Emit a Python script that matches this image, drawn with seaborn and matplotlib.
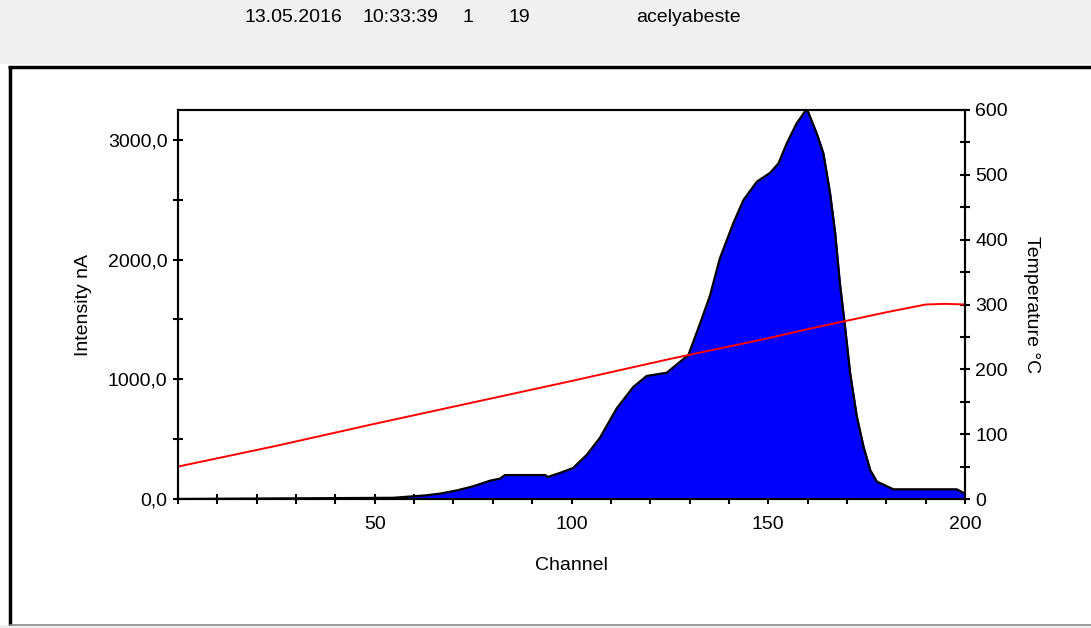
import matplotlib
matplotlib.use("Agg")
import matplotlib.pyplot as plt
import matplotlib.ticker as mticker
from matplotlib.patches import Rectangle
from matplotlib.lines import Line2D
import seaborn as sns
import pandas as pd

# ------------------------------------------------------------
# Data
# ------------------------------------------------------------
channel = [0, 54.6, 62.8, 66.6, 70.9, 75.0, 79.3, 81.8, 83.1, 93.3, 94.0, 97.0,
           100.4, 103.9, 107.2, 111.5, 115.7, 119.1, 124.2, 127.6, 129.7, 132.7,
           135.2, 137.7, 141.1, 143.7, 147.1, 150.5, 152.6, 154.7, 157.2, 159.8,
           162.3, 164.0, 165.7, 167.0, 168.2, 169.5, 170.8, 172.5, 174.2, 175.9,
           177.6, 181.8, 197.9, 199.5, 200]
intensity = [0, 10, 30, 45, 72, 106, 153, 170, 200, 200, 184, 217,
             259, 370, 510, 758, 936, 1028, 1055, 1147, 1203, 1468,
             1700, 2010, 2303, 2498, 2651, 2726, 2804, 2971, 3138, 3260,
             3055, 2888, 2554, 2220, 1800, 1440, 1050, 688, 437, 242,
             145, 81, 81, 53, 50]

temp_channel = [0, 25, 50, 75, 100, 125, 150, 160, 170, 180, 190, 195, 200]
temperature = [50, 82, 116, 149, 182, 216, 248, 262, 275, 288, 300, 301, 300]

header_items = ["13.05.2016", "10:33:39", "1", "19", "acelyabeste"]
header_x = [245, 362, 462, 508, 636]

left_ticks = [0, 1000, 2000, 3000]
right_ticks = [0, 100, 200, 300, 400, 500, 600]
x_ticks = [50, 100, 150, 200]

# ------------------------------------------------------------
# Figure
# ------------------------------------------------------------
sns.set_style("white")
plt.rcParams["font.family"] = ["Liberation Sans", "DejaVu Sans"]
for key in ("text.color", "axes.labelcolor", "xtick.color", "ytick.color"):
    plt.rcParams[key] = "black"
FS = 14

W, H = 1091, 628
fig = plt.figure(figsize=(W / 100, H / 100), dpi=100)
fig.patch.set_facecolor("white")

# window chrome: gray header, black frame
fig.add_artist(Rectangle((0, 1 - 64 / H), 1, 64 / H, transform=fig.transFigure,
                         facecolor="#f0f0f0", edgecolor="none", zorder=0))
fig.add_artist(Line2D([8 / W, 1], [1 - 66.5 / H] * 2, transform=fig.transFigure,
                      color="black", lw=2.5, solid_capstyle="butt"))
fig.add_artist(Line2D([10 / W] * 2, [1 - 66 / H, 1 - 625 / H], transform=fig.transFigure,
                      color="black", lw=2.5, solid_capstyle="butt"))
fig.add_artist(Rectangle((0, 0), 1, 3 / H, transform=fig.transFigure,
                         facecolor="#f0f0f0", edgecolor="none"))
fig.add_artist(Line2D([10 / W, 1], [1 - 625 / H] * 2, transform=fig.transFigure,
                      color="#8a8a8a", lw=1.2))

for txt, px in zip(header_items, header_x):
    fig.text(px / W, 1 - 18 / H, txt, fontsize=FS, ha="left", va="center")

left, right, top, bottom = 178, 965, 110, 499
ax = fig.add_axes([left / W, 1 - bottom / H, (right - left) / W, (bottom - top) / H])
ax2 = ax.twinx()

df = pd.DataFrame({"channel": channel, "intensity": intensity})
tf = pd.DataFrame({"channel": temp_channel, "temperature": temperature})

ax.fill_between(df["channel"], df["intensity"], color="#0000ff", zorder=2)
sns.lineplot(data=df, x="channel", y="intensity", ax=ax, color="black", lw=1.6, zorder=3)
sns.lineplot(data=tf, x="channel", y="temperature", ax=ax2, color="#ff0000", lw=1.4)

ax.set_xlim(0, 200)
ax.set_ylim(0, 3250)
ax2.set_ylim(0, 600)

ax.xaxis.set_major_locator(mticker.FixedLocator(x_ticks))
ax.xaxis.set_minor_locator(mticker.MultipleLocator(10))
ax.yaxis.set_major_locator(mticker.FixedLocator(left_ticks))
ax.yaxis.set_minor_locator(mticker.MultipleLocator(500))
ax.yaxis.set_major_formatter(mticker.FuncFormatter(lambda v, p: f"{v:.1f}".replace(".", ",")))
ax2.yaxis.set_major_locator(mticker.FixedLocator(right_ticks))
ax2.yaxis.set_minor_locator(mticker.MultipleLocator(50))

for a in (ax, ax2):
    for s in a.spines.values():
        s.set_visible(True)
        s.set_color("black")
        s.set_linewidth(1.5)
    a.tick_params(which="both", direction="inout", length=7, width=1.5, color="black",
                  labelsize=FS, pad=4)
ax.tick_params(axis="y", which="both", left=True, right=False)
ax.tick_params(axis="x", which="both", bottom=True, top=False, pad=9)
ax2.tick_params(axis="y", which="both", left=False, right=True)

ax.set_xlabel("Channel", fontsize=FS)
ax.xaxis.set_label_coords(0.5, -0.15)
ax.set_ylabel("Intensity nA", fontsize=FS, va="center")
ax.yaxis.set_label_coords(-0.1207, 0.5)
ax2.set_ylabel("Temperature °C", fontsize=FS, rotation=270, va="center")
ax2.yaxis.set_label_coords(1.085, 0.5)

ax.set_zorder(ax2.get_zorder() - 1)
ax2.patch.set_visible(False)

fig.savefig("out.png", dpi=100)
